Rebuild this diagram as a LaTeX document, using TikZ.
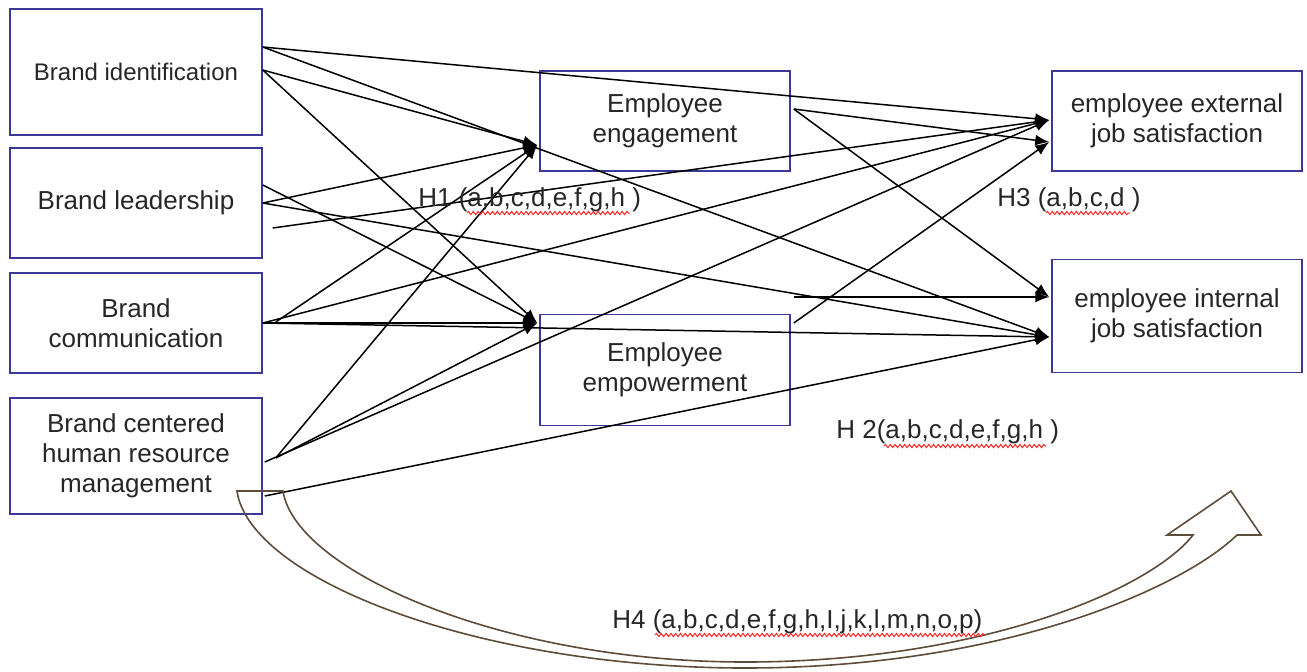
\documentclass[tikz,border=0pt]{standalone}
\usepackage{fontspec}
\setmainfont{Liberation Sans}
\usetikzlibrary{calc,arrows.meta,decorations.pathmorphing}
\definecolor{boxblue}{HTML}{3A3A96}
\definecolor{arcbrown}{HTML}{5E4C3A}
\tikzset{
  var/.style={draw=boxblue,line width=0.75pt,align=center,minimum width=126pt,
    font=\fontsize{13pt}{15pt}\selectfont,inner sep=2pt,text=black!85},
  link/.style={line width=0.75pt,-{Latex[length=7pt,width=5.5pt]}},
  hyp/.style={anchor=west,font=\fontsize{13pt}{15pt}\selectfont,inner sep=0pt,text=black!85},
  squiggle/.style={red!85,line width=0.5pt,decorate,
    decoration={snake,amplitude=0.8pt,segment length=2.4pt}}
}
\begin{document}
\begin{tikzpicture}[x=0.5pt,y=-0.5pt]
    \useasboundingbox (0,0) rectangle (1307,671);
    %% antecedents
    \node[var,minimum height=63pt,font=\fontsize{12pt}{15pt}\selectfont] (bi) at (136,72) {Brand identification};
    \node[var,minimum height=55pt] (bl) at (136,203) {Brand leadership};
    \node[var,minimum height=50pt] (bc) at (136,323) {Brand\\communication};
    \node[var,minimum height=58pt] (bh) at (136,456) {Brand centered\\human resource\\management};
    %% mediators
    \node[var,minimum width=125pt,minimum height=50pt] (eng) at (665,121) {Employee\\engagement};
    \node[var,minimum width=125pt,minimum height=55.5pt] (emp) at (665,370) {Employee\\empowerment};
    %% outcomes
    \node[var,minimum width=125pt,minimum height=50pt] (ext) at (1177,121) {employee external\\job satisfaction};
    \node[var,minimum width=125pt,minimum height=56.5pt] (int) at (1177,316) {employee internal\\job satisfaction};

    %% arrow ends
    \coordinate (engIn) at ($(eng.west)+(-2,24)$);
    \coordinate (empIn) at ($(emp.west)+(-2,-47)$);
    \coordinate (extIn1) at ($(ext.west)+(-2,-1)$);
    \coordinate (extIn2) at ($(ext.west)+(-2,21)$);
    \coordinate (intIn1) at ($(int.west)+(-2,-19)$);
    \coordinate (intIn2) at ($(int.west)+(-2,21)$);
    %% arrow starts
    \coordinate (biA) at ($(bi.east)+(0,-25)$);
    \coordinate (biB) at ($(bi.east)+(0,-2)$);
    \coordinate (blA) at ($(bl.east)+(0,-18)$);
    \coordinate (blB) at (bl.east);
    \coordinate (blC) at ($(bl.east)+(10,25)$);
    \coordinate (bcA) at (bc.east);
    \coordinate (bcB) at ($(bc.east)+(13,-1)$);
    \coordinate (bhA) at ($(bh.east)+(2,6)$);
    \coordinate (bhB) at ($(bh.east)+(13,2)$);
    \coordinate (bhC) at ($(bh.east)+(2,40)$);
    \coordinate (engA) at ($(eng.east)+(3,-12)$);
    \coordinate (empA) at ($(emp.east)+(3,-47)$);
    \coordinate (empB) at ($(emp.east)+(3,-73)$);

    %% H1
    \foreach \s/\t in {biB/engIn,biB/empIn,blB/engIn,blA/empIn,bcB/engIn,bcA/empIn,bhB/engIn,bhB/empIn}
        \draw[link] (\s) -- (\t);
    %% H2
    \foreach \s/\t in {biA/extIn1,biA/intIn2,blC/extIn1,blB/intIn2,bcA/extIn1,bcA/intIn2,bhA/extIn1,bhC/intIn2}
        \draw[link] (\s) -- (\t);
    %% H3
    \foreach \s/\t in {engA/extIn2,engA/intIn1,empA/extIn2,empB/intIn1}
        \draw[link] (\s) -- (\t);

    %% H4 curved block arrow
    \draw[arcbrown,line width=0.8pt] (237,491) .. controls (250,580) and (480,668) .. (745,668)
        .. controls (1000,668) and (1180,590) .. (1237,535) -- (1261,535) -- (1231,491) -- (1167,535) -- (1193,535)
        .. controls (1150,590) and (980,662) .. (745,662) .. controls (500,662) and (295,570) .. (283,491) -- cycle;

    %% hypothesis labels
    \node[hyp] (h1) at (418,200) {H1 (a,b,c,d,e,f,g,h )};
    \node[hyp] (h3) at (997,200) {H3 (a,b,c,d )};
    \node[hyp] (h2) at (836,432) {H 2(a,b,c,d,e,f,g,h )};
    \node[hyp] (h4) at (612,622) {H4 (a,b,c,d,e,f,g,h,I,j,k,l,m,n,o,p)};
    \draw[squiggle] ($(h1.west)+(49,13)$) -- ++(163,0);
    \draw[squiggle] ($(h3.west)+(49,13)$) -- ++(84,0);
    \draw[squiggle] ($(h2.west)+(48,14)$) -- ++(162,0);
    \draw[squiggle] ($(h4.west)+(43,13)$) -- ++(330,0);
\end{tikzpicture}
\end{document}
